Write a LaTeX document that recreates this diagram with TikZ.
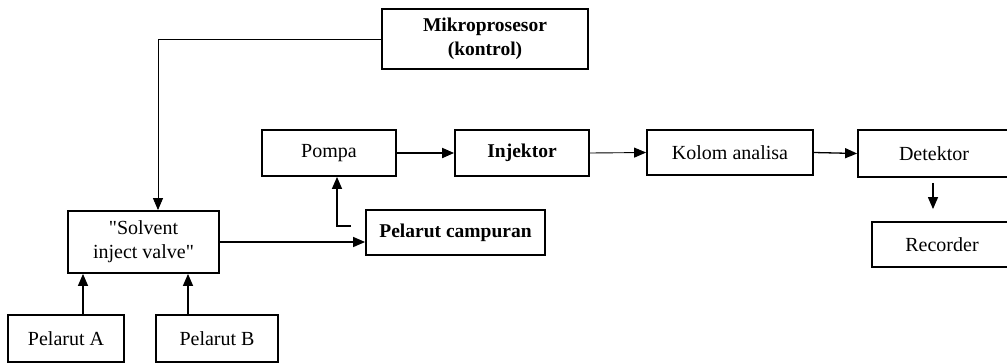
\documentclass[tikz,border=0pt]{standalone}
\usepackage{fontspec}
\setmainfont{Liberation Serif}
\usetikzlibrary{arrows.meta,positioning}

\begin{document}
\begin{tikzpicture}[x=1pt,y=-1pt,
    blok/.style={draw,line width=1.8pt,inner sep=0pt,align=center,font=\fontsize{20}{24}\selectfont},
    tebal/.style={font=\fontsize{19.5}{24}\selectfont\bfseries},
    panah/.style={line width=1.3pt,-{Triangle[length=12pt,width=10pt]}}]
    \useasboundingbox (0,0) rectangle (1007,362);

    % Blok kontrol
    \node[blok,tebal,minimum width=206,minimum height=60] (mikro) at (485,39) {Mikroprosesor\\(kontrol)};

    % Jalur utama
    \node[blok,minimum width=134,minimum height=46] (pompa) at (329,153) {Pompa};
    \node[blok,tebal,minimum width=134,minimum height=46] (injektor) at (522,153) {Injektor};
    \node[blok,minimum width=166,minimum height=45] (kolom) at (730,152.5) {Kolom analisa};
    \node[blok,minimum width=152,minimum height=47] (detektor) at (934,153.5) {Detektor};
    \node[blok,minimum width=140,minimum height=45] (recorder) at (942,244.5) {Recorder};

    % Pelarut
    \node[blok,minimum width=151,minimum height=62] (solvent) at (143.5,242) {\textquotedbl Solvent\\inject valve\textquotedbl};
    \node[blok,tebal,minimum width=179,minimum height=45] (campuran) at (455.5,232.5) {Pelarut campuran};
    \node[blok,minimum width=116,minimum height=47] (pelA) at (66,338.5) {Pelarut A};
    \node[blok,minimum width=122,minimum height=47] (pelB) at (217,338.5) {Pelarut B};
    \coordinate (belok) at (351,226);

    % Panah
    \draw[panah,line width=0.9pt] (mikro.west) -| ([xshift=14.5pt]solvent.north);
    \draw[panah] (solvent.east) -- (solvent.east -| campuran.west);
    \draw[panah] (belok) -| ([xshift=8pt]pompa.south);
    \draw[panah,line width=1.8pt] (pompa.east) -- (injektor.west);
    \draw[panah,line width=0.9pt] (injektor.east) -- (kolom.west);
    \draw[panah] (kolom.east) -- (detektor.west);
    \draw[panah,shorten <=5pt,shorten >=12pt] ([xshift=-1pt]detektor.south) -- ([xshift=-1pt]detektor.south |- recorder.north);
    \draw[panah] ([xshift=17pt]pelA.north) -- ([xshift=17pt]pelA.north |- solvent.south);
    \draw[panah] ([xshift=-29pt]pelB.north) -- ([xshift=-29pt]pelB.north |- solvent.south);
\end{tikzpicture}
\end{document}
